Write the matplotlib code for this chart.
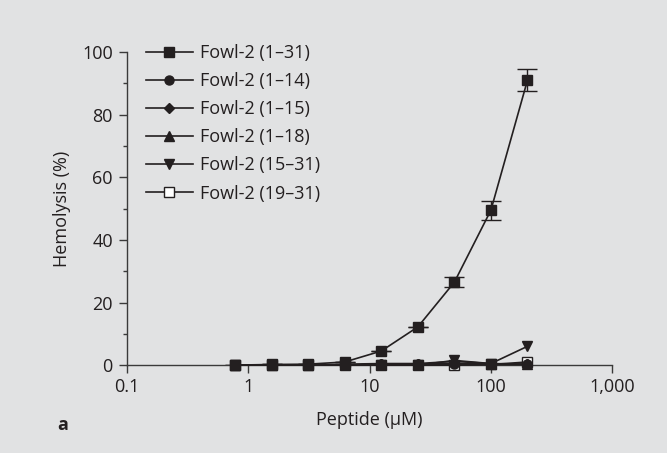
import matplotlib.pyplot as plt
from matplotlib.ticker import FixedLocator

plt.rcParams['font.family'] = ['Open Sans', 'DejaVu Sans']

# peptide concentrations (uM)
conc = [0.78, 1.56, 3.125, 6.25, 12.5, 25, 50, 100, 200]

# hemolysis (%) per peptide
h_1_31 = [0, 0.2, 0.3, 1.0, 4.5, 12.2, 26.5, 49.5, 91.0]
err_1_31 = [0, 0, 0, 0, 0, 0, 1.5, 3.0, 3.5]
h_1_14 = [0, 0, 0, 0, 0.2, 0.2, 0.2, 0.2, 0.2]
h_1_15 = [0, 0, 0, 0, 0.3, 0.3, 0.6, 0.3, 0.3]
h_1_18 = [0, 0, 0, 0.3, 0.5, 0.5, 1.2, 0.5, 0.3]
h_15_31 = [0, 0, 0, 0, 0, 0, 1.5, 0.5, 6.0]
h_19_31 = [0, 0, 0, 0, 0, 0, 0, 0.2, 1.0]

labels = ['Fowl-2 (1\u201331)', 'Fowl-2 (1\u201314)', 'Fowl-2 (1\u201315)',
          'Fowl-2 (1\u201318)', 'Fowl-2 (15\u201331)', 'Fowl-2 (19\u201331)']

bg = '#e1e2e3'
ink = '#231f20'
axc = '#3a3a3a'

fig = plt.figure(figsize=(6.67, 4.53), dpi=100, facecolor=bg)
ax = fig.add_axes([0.190, 0.194, 0.728, 0.691], facecolor=bg)

series = [
    (h_1_31, 's', ink, 7.5),
    (h_1_14, 'o', ink, 6.5),
    (h_1_15, 'D', ink, 5.5),
    (h_1_18, '^', ink, 7),
    (h_15_31, 'v', ink, 7),
    (h_19_31, 's', 'white', 7),
]
# later series go underneath so the filled squares stay on top
handles = []
n = len(series)
for i, ((vals, m, fc, ms), lab) in enumerate(zip(series, labels)):
    ln, = ax.plot(conc, vals, marker=m, color=ink, mfc=fc, mec=ink, ms=ms,
                  lw=1.2, label=lab, clip_on=False, zorder=3 + (n - i))
    handles.append(ln)

ax.errorbar(conc, h_1_31, yerr=err_1_31, fmt='none', ecolor=ink,
            elinewidth=1, capsize=7, capthick=1, zorder=2)

ax.set_xscale('log')
ax.set_xlim(0.1, 1000)
ax.set_ylim(0, 100)
ax.set_xticks([0.1, 1, 10, 100, 1000])
ax.set_xticklabels(['0.1', '1', '10', '100', '1,000'])
ax.minorticks_off()
ax.set_yticks([0, 20, 40, 60, 80, 100])
ax.yaxis.set_minor_locator(FixedLocator([10, 30, 50, 70, 90]))

for s in ['top', 'right']:
    ax.spines[s].set_visible(False)
for s in ['left', 'bottom']:
    ax.spines[s].set_color(axc)
    ax.spines[s].set_linewidth(1.0)

ax.tick_params(axis='x', which='major', direction='out', length=6, width=1,
               colors=axc, labelcolor=ink, labelsize=13, pad=3)
ax.tick_params(axis='y', which='major', direction='out', length=6, width=1,
               colors=axc, labelcolor=ink, labelsize=13, pad=4)
ax.tick_params(axis='y', which='minor', direction='out', length=3, width=1,
               colors=axc)

ax.set_xlabel('Peptide (\u03bcM)', fontsize=13, color=ink, labelpad=11)
ax.set_ylabel('Hemolysis (%)', fontsize=13, color=ink, labelpad=8)

ax.legend(handles=handles, loc='upper left', bbox_to_anchor=(0.039, 1.026),
          frameon=False, fontsize=13, handlelength=2.6, labelspacing=0.56,
          handletextpad=0.4, borderpad=0, borderaxespad=0, labelcolor=ink)

fig.text(0.086, 0.051, 'a', fontsize=13, fontweight='bold', color=ink)

fig.savefig('out.png', dpi=100, facecolor=bg)
